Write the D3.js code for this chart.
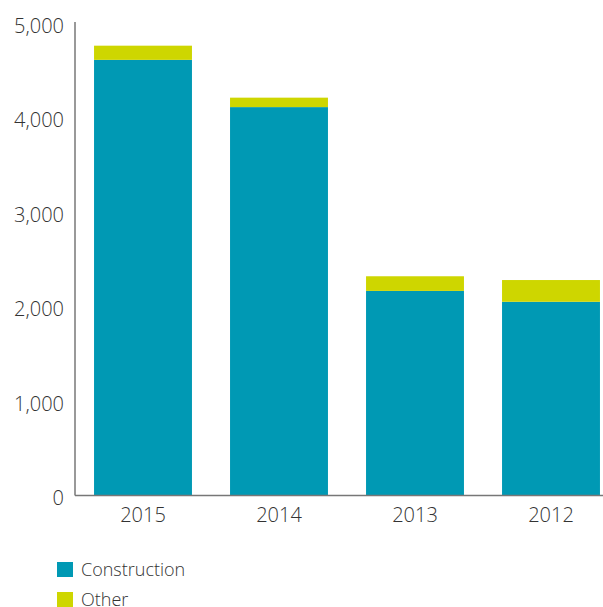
<!DOCTYPE html>
<html>
<head>
<meta charset="utf-8">
<script src="https://cdn.jsdelivr.net/npm/d3@7"></script>
<style>
  html, body { margin: 0; padding: 0; background: #fff; }
  svg { display: block; font-family: "Open Sans", "Noto Sans", sans-serif; }
</style>
</head>
<body>
<svg id="chart" width="603" height="607"></svg>
<script>
// Years shown left to right
const years = ["2015", "2014", "2013", "2012"];
// Stacked series values
const construction = [4610, 4110, 2165, 2050];
const other = [150, 100, 155, 230];
const seriesNames = ["Construction", "Other"];
const seriesColors = ["#0099B4", "#CED600"];
// Y axis ticks
const yTicks = [0, 1000, 2000, 3000, 4000, 5000];

const svg = d3.select("#chart");
const plotLeft = 75, plotRight = 619, plotTop = 23, plotBottom = 495.5;

const x = d3.scaleBand().domain(years).range([plotLeft, plotRight])
  .paddingInner(0.28).paddingOuter(0.14);
const y = d3.scaleLinear().domain([0, 5000]).range([plotBottom, plotTop]);

const rows = years.map((yr, i) => ({ year: yr, Construction: construction[i], Other: other[i] }));
const stack = d3.stack().keys(seriesNames)(rows);
const color = d3.scaleOrdinal().domain(seriesNames).range(seriesColors);

svg.append("g").selectAll("g").data(stack).join("g")
  .attr("fill", d => color(d.key))
  .selectAll("rect").data(d => d).join("rect")
  .attr("x", d => x(d.data.year))
  .attr("width", x.bandwidth())
  .attr("y", d => y(d[1]))
  .attr("height", d => y(d[0]) - y(d[1]));

// Y axis: plain vertical rule with labels
const yAxis = svg.append("g").attr("transform", `translate(${plotLeft},0)`)
  .call(d3.axisLeft(y).tickValues(yTicks).tickFormat(d3.format(",")).tickSize(0).tickPadding(11));
yAxis.select(".domain").attr("stroke", "#777").attr("stroke-width", 1.5).attr("d", `M0,${plotTop - 1}V${plotBottom}`);
yAxis.selectAll("text").attr("font-size", 20).attr("font-weight", 300)
  .attr("fill", "#333").attr("dy", "0.45em").attr("font-family", "'Open Sans', sans-serif");

// X axis
const xAxis = svg.append("g").attr("transform", `translate(0,${plotBottom})`)
  .call(d3.axisBottom(x).tickSize(0).tickPadding(12));
xAxis.select(".domain").attr("stroke", "#777").attr("stroke-width", 1.5).attr("d", `M${plotLeft},0H603`);
xAxis.selectAll("text").attr("font-size", 20).attr("font-weight", 300)
  .attr("fill", "#333").attr("font-family", "'Open Sans', sans-serif");

// Legend
const legend = svg.append("g").selectAll("g").data(seriesNames).join("g")
  .attr("transform", (d, i) => `translate(57,${562 + i * 30})`);
legend.append("rect").attr("width", 16).attr("height", 15).attr("fill", d => color(d));
legend.append("text").attr("x", 24).attr("y", 14)
  .attr("font-size", 18).attr("font-weight", 300).attr("fill", "#333")
  .text(d => d);
</script>
</body>
</html>
